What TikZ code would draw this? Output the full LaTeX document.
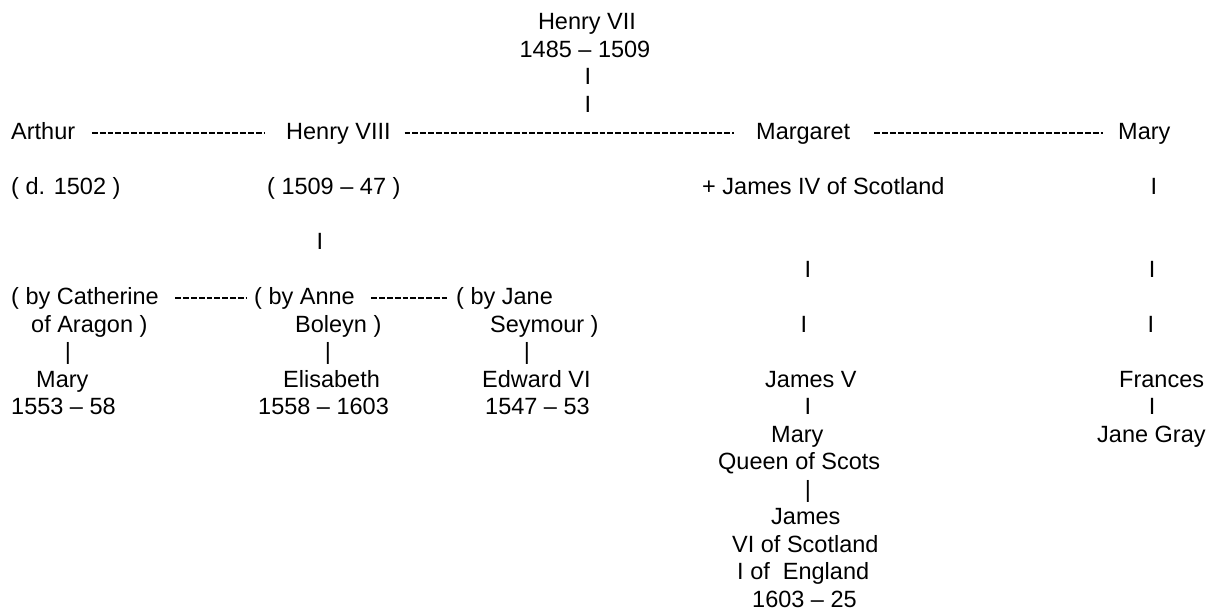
\documentclass[tikz,border=0pt]{standalone}
\usepackage{fontspec}
\setmainfont{Liberation Sans}
\begin{document}
\begin{tikzpicture}[x=1pt,y=1pt,
  txt/.style={inner sep=0pt, anchor=base west, font=\fontsize{23.5}{27.5}\selectfont},
  ctxt/.style={inner sep=0pt, anchor=base, font=\fontsize{23.5}{27.5}\selectfont},
  hyph/.style={line width=2pt, dash pattern=on 5.8pt off 2pt}]
\useasboundingbox (0,0) rectangle (1218,-612);
\fill[white] (0,0) rectangle (1218,-612);
% row baseline: y = -(29.7 + 27.5 r)
% Henry VII
\node[ctxt] (h7) at (587,{-(29.7+27.5*0)}) {Henry VII};
\node[ctxt] (h7d) at (585,{-(29.7+27.5*1)}) {1485 – 1509};
\node[ctxt] (h7a) at (588,{-(29.7+27.5*2)}) {I};
\node[ctxt] (h7b) at (588,{-(29.7+27.5*3)}) {I};
% row 4
\node[txt] (arthur) at (11,{-(29.7+27.5*4)}) {Arthur};
\node[txt] (henry8) at (286,{-(29.7+27.5*4)}) {Henry VIII};
\node[txt] (margaret) at (756,{-(29.7+27.5*4)}) {Margaret};
\node[txt] (mary) at (1118,{-(29.7+27.5*4)}) {Mary};
\draw[hyph] ([shift={(16.6,6.2)}]arthur.base east) -- ([shift={(-22,6.2)}]henry8.base west);
\draw[hyph] ([shift={(13.8,6.2)}]henry8.base east) -- ([shift={(-22,6.2)}]margaret.base west);
\draw[hyph] ([shift={(24,6.2)}]margaret.base east) -- ([shift={(-15,6.2)}]mary.base west);
% row 6
\node[txt] (arthurd) at (11,{-(29.7+27.5*6)}) {( d. 1502 )};
\node[txt] (henry8d) at (267,{-(29.7+27.5*6)}) {( 1509 – 47 )};
\node[txt] (james4) at (702,{-(29.7+27.5*6)}) {+ James IV of Scotland};
\node[ctxt] (marya) at (1154,{-(29.7+27.5*6)}) {I};
% row 8, 9
\node[ctxt] (henry8a) at (320,{-(29.7+27.5*8)}) {I};
\node[ctxt] (marga) at (808,{-(29.7+27.5*9)}) {I};
\node[ctxt] (maryb) at (1152,{-(29.7+27.5*9)}) {I};
% row 10, 11
\node[txt] (cath) at (11,{-(29.7+27.5*10)}) {( by Catherine};
\node[txt] (anne) at (254,{-(29.7+27.5*10)}) {( by Anne};
\node[txt] (jane) at (456,{-(29.7+27.5*10)}) {( by Jane};
\draw[hyph] ([shift={(16.4,6.2)}]cath.base east) -- ([shift={(-7,6.2)}]anne.base west);
\draw[hyph] ([shift={(16.5,6.2)}]anne.base east) -- ([shift={(-7,6.2)}]jane.base west);
\node[txt] (cath2) at (31,{-(29.7+27.5*11)}) {of Aragon )};
\node[txt] (anne2) at (295,{-(29.7+27.5*11)}) {Boleyn )};
\node[txt] (jane2) at (490,{-(29.7+27.5*11)}) {Seymour )};
\node[ctxt] (margb) at (804,{-(29.7+27.5*11)}) {I};
\node[ctxt] (maryc) at (1151,{-(29.7+27.5*11)}) {I};
% row 12
\node[ctxt] (catha) at (68,{-(29.7+27.5*12)}) {|};
\node[ctxt] (annea) at (328,{-(29.7+27.5*12)}) {|};
\node[ctxt] (janea) at (527,{-(29.7+27.5*12)}) {|};
% row 13
\node[txt] (maryt) at (36,{-(29.7+27.5*13)}) {Mary};
\node[txt] (elis) at (283,{-(29.7+27.5*13)}) {Elisabeth};
\node[txt] (edw) at (482,{-(29.7+27.5*13)}) {Edward VI};
\node[txt] (james5) at (765,{-(29.7+27.5*13)}) {James V};
\node[txt] (frances) at (1119,{-(29.7+27.5*13)}) {Frances};
% row 14
\node[txt] (marytd) at (11,{-(29.7+27.5*14)}) {1553 – 58};
\node[txt] (elisd) at (258,{-(29.7+27.5*14)}) {1558 – 1603};
\node[txt] (edwd) at (485,{-(29.7+27.5*14)}) {1547 – 53};
\node[ctxt] (james5a) at (808,{-(29.7+27.5*14)}) {I};
\node[ctxt] (francesa) at (1152,{-(29.7+27.5*14)}) {I};
% row 15-21
\node[txt] (marys) at (771,{-(29.7+27.5*15)}) {Mary};
\node[txt] (janeg) at (1097,{-(29.7+27.5*15)}) {Jane Gray};
\node[txt] (marys2) at (718,{-(29.7+27.5*16)}) {Queen of Scots};
\node[ctxt] (marysa) at (808,{-(29.7+27.5*17)}) {|};
\node[txt] (james6) at (771,{-(29.7+27.5*18)}) {James};
\node[txt] (james6b) at (732,{-(29.7+27.5*19)}) {VI of Scotland};
\node[txt] (james6c) at (737,{-(29.7+27.5*20)}) {I of\ \ England};
\node[txt] (james6d) at (752,{-(29.7+27.5*21)}) {1603 – 25};
\end{tikzpicture}
\end{document}
